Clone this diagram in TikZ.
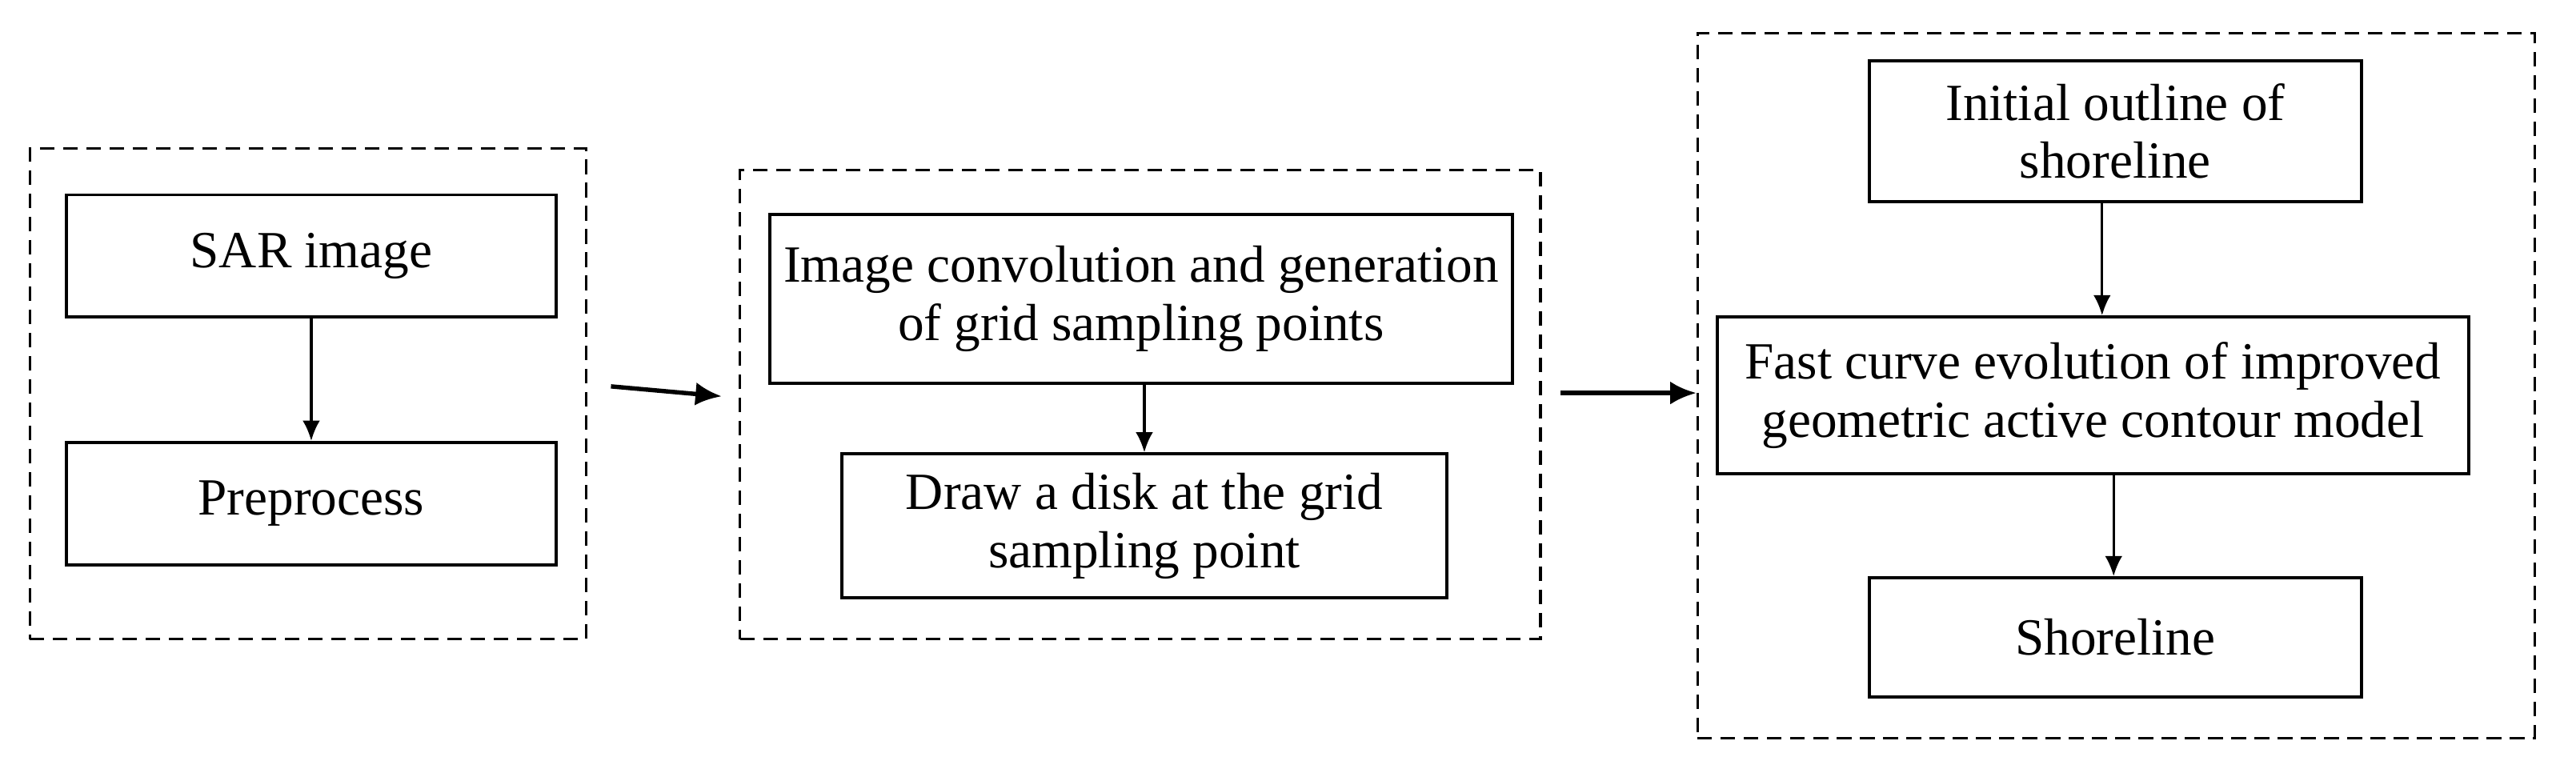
\documentclass[tikz,border=0pt]{standalone}
\usepackage{fontspec}
\setmainfont{Liberation Serif}
\usetikzlibrary{arrows.meta}
\begin{document}
\begin{tikzpicture}[x=0.02cm,y=-0.02cm,
    box/.style={draw,line width=1.1pt,align=center,inner sep=2pt,font=\fontsize{18}{20}\selectfont},
    group/.style={draw,line width=0.9pt,dash pattern=on 5pt off 3pt},
    link/.style={line width=0.9pt,-{Latex[length=7pt,width=6pt]}},
    jump/.style={line width=1.5pt,-{Latex[length=9pt,width=8pt]}}]
\useasboundingbox (0,0) rectangle (1560,463);
% groups
\node[group,minimum width=6.74cm,minimum height=5.94cm] (g1) at (186.5,238.5) {};
\node[group,minimum width=9.7cm,minimum height=5.68cm] (g2) at (690.5,245) {};
\node[group,minimum width=10.14cm,minimum height=8.54cm] (g3) at (1281.5,233.5) {};
% boxes
\node[box,minimum width=5.94cm,minimum height=1.48cm] (sar) at (188.5,155) {SAR image};
\node[box,minimum width=5.94cm,minimum height=1.48cm] (pre) at (188.5,305) {Preprocess};
\node[box,minimum width=9.0cm,minimum height=2.04cm] (conv) at (691,181) {Image convolution and generation\\of grid sampling points};
\node[box,minimum width=7.32cm,minimum height=1.74cm] (disk) at (693,318.5) {Draw a disk at the grid\\sampling point};
\node[box,minimum width=5.96cm,minimum height=1.7cm] (init) at (1281,79.5) {Initial outline of\\shoreline};
\node[box,minimum width=9.1cm,minimum height=1.9cm] (fast) at (1267.5,239.5) {Fast curve evolution of improved\\geometric active contour model};
\node[box,minimum width=5.96cm,minimum height=1.44cm] (shore) at (1281,386) {Shoreline};
% arrows
\draw[link] (sar) -- (pre);
\draw[link] (conv.south -| disk.north) -- (disk);
\draw[link] (init.south -| 1273,0) -- (fast.north -| 1273,0);
\draw[link] (fast.south -| 1280,0) -- (shore.north -| 1280,0);
\coordinate (a1) at (370,234);
\coordinate (a2) at (437,240);
\draw[jump] (a1) -- (a2);
\coordinate (b1) at (945,238);
\draw[jump] (b1) -- (g3.west |- b1);
\end{tikzpicture}
\end{document}
